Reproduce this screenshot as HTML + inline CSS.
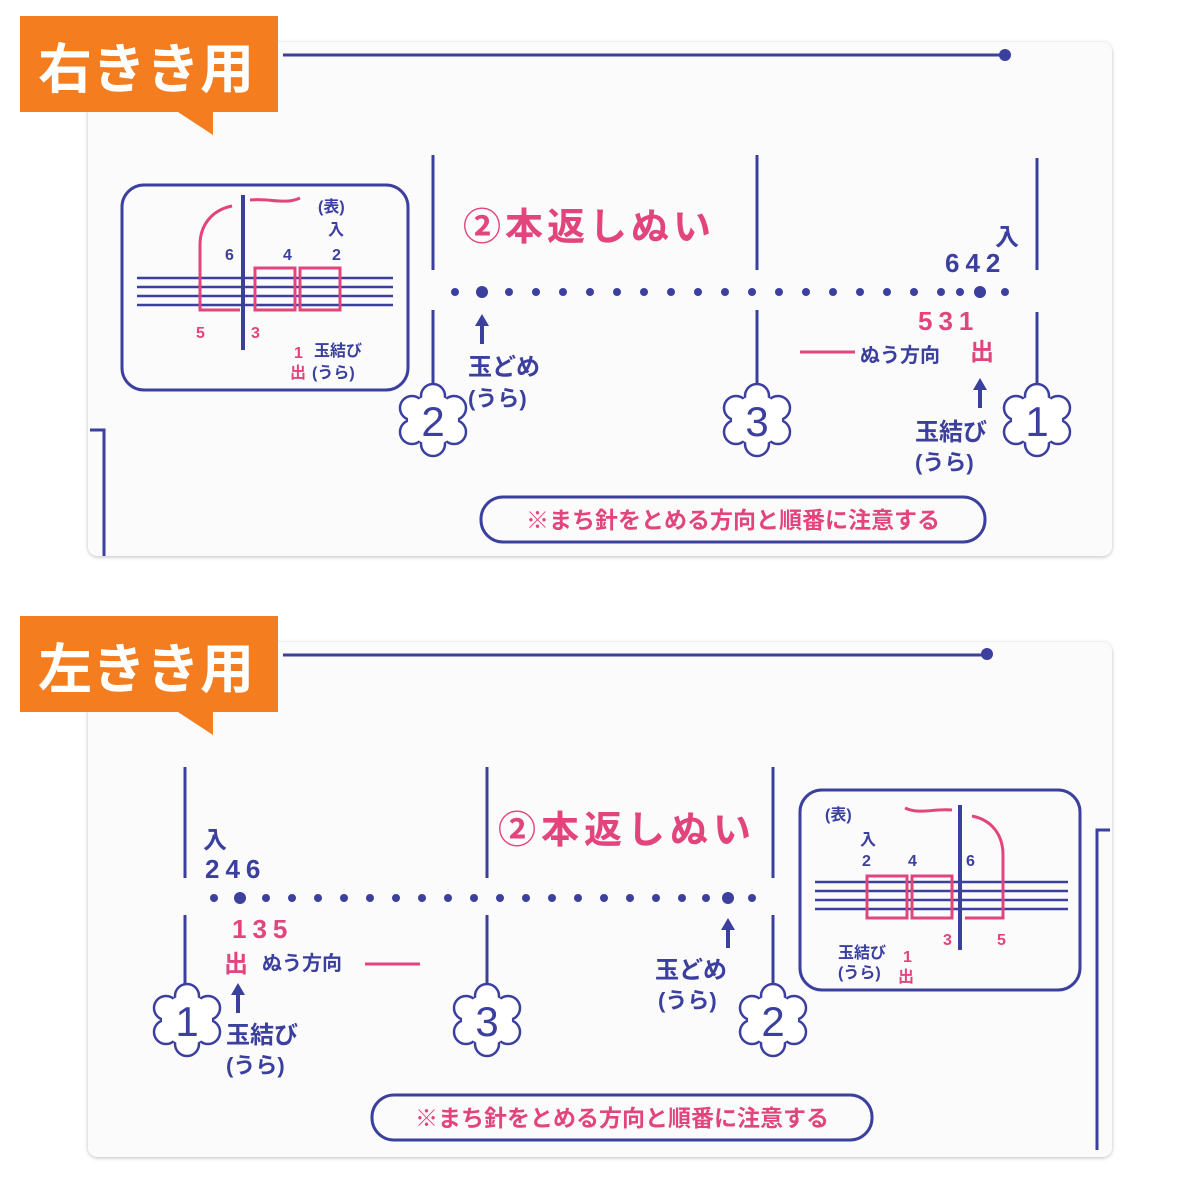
<!DOCTYPE html>
<html><head><meta charset="utf-8"><style>
html,body{margin:0;padding:0;background:#fff;}
svg{display:block;}
text{font-family:"Liberation Sans","Noto Sans CJK JP",sans-serif;font-weight:bold;}
.b{fill:#3b3f9e;}
.p{fill:#e2457c;}
</style></head><body>
<svg width="1200" height="1200" viewBox="0 0 1200 1200" xmlns="http://www.w3.org/2000/svg">
<defs>
<filter id="sh" x="-5%" y="-5%" width="110%" height="110%"><feDropShadow dx="0" dy="1" stdDeviation="2" flood-color="#000" flood-opacity="0.25"/></filter>
<g id="flower">
  <circle cx="0" cy="-24" r="12" fill="#fff" stroke="#3b3f9e" stroke-width="2.5"/>
  <circle cx="21" cy="-12" r="12" fill="#fff" stroke="#3b3f9e" stroke-width="2.5"/>
  <circle cx="21" cy="12" r="12" fill="#fff" stroke="#3b3f9e" stroke-width="2.5"/>
  <circle cx="0" cy="24" r="12" fill="#fff" stroke="#3b3f9e" stroke-width="2.5"/>
  <circle cx="-21" cy="12" r="12" fill="#fff" stroke="#3b3f9e" stroke-width="2.5"/>
  <circle cx="-21" cy="-12" r="12" fill="#fff" stroke="#3b3f9e" stroke-width="2.5"/>
  <circle cx="0" cy="0" r="25" fill="#fff"/>
</g>
<g id="upar"><path d="M0 0 L-7 12 L7 12 Z" fill="#3b3f9e"/><rect x="-2" y="10" width="4" height="20" fill="#3b3f9e"/></g>
</defs>

<!-- TOP CARD -->
<rect x="88" y="42" width="1024" height="514" rx="10" fill="#fbfbfc" filter="url(#sh)"/>
<line x1="283" y1="55" x2="1005" y2="55" stroke="#3b3f9e" stroke-width="3"/>
<circle cx="1005" cy="55" r="6" fill="#3b3f9e"/>
<g stroke="#3b3f9e" stroke-width="3" fill="none">
<path d="M433 155 V270 M433 310 V390"/>
<path d="M757 155 V270 M757 310 V395"/>
<path d="M1037 158 V270 M1037 312 V390"/>
</g>
<g class="b">
<circle cx="455" cy="292" r="4"/><circle cx="482" cy="292" r="6"/><circle cx="509" cy="292" r="4"/><circle cx="536" cy="292" r="4"/><circle cx="563" cy="292" r="4"/><circle cx="590" cy="292" r="4"/><circle cx="617" cy="292" r="4"/><circle cx="644" cy="292" r="4"/><circle cx="671" cy="292" r="4"/><circle cx="698" cy="292" r="4"/><circle cx="725" cy="292" r="4"/><circle cx="752" cy="292" r="4"/><circle cx="779" cy="292" r="4"/><circle cx="806" cy="292" r="4"/><circle cx="833" cy="292" r="4"/><circle cx="860" cy="292" r="4"/><circle cx="887" cy="292" r="4"/><circle cx="914" cy="292" r="4"/><circle cx="941" cy="292" r="4"/><circle cx="980" cy="292" r="6"/><circle cx="1005" cy="292" r="4"/><circle cx="960" cy="292" r="4"/>
</g>
<text x="463" y="240" font-size="38" class="p" letter-spacing="4">②本返しぬい</text>
<text x="995" y="245" font-size="24" class="b">入</text>
<text x="945" y="272" font-size="26" class="b" letter-spacing="6">642</text>
<text x="918" y="330" font-size="26" class="p" letter-spacing="6">531</text>
<text x="970" y="360" font-size="24" class="p">出</text>
<use href="#upar" x="482" y="314"/>
<text x="468" y="375" font-size="24" class="b">玉どめ</text>
<text x="468" y="406" font-size="22" class="b">(うら)</text>
<line x1="800" y1="352" x2="855" y2="352" stroke="#e2457c" stroke-width="3"/>
<text x="860" y="362" font-size="20" class="b">ぬう方向</text>
<use href="#upar" x="980" y="378"/>
<text x="915" y="440" font-size="24" class="b">玉結び</text>
<text x="915" y="470" font-size="22" class="b">(うら)</text>
<use href="#flower" x="433" y="420"/><text x="433" y="436" font-size="42" class="b" text-anchor="middle" style="font-weight:normal">2</text>
<use href="#flower" x="757" y="420"/><text x="757" y="436" font-size="42" class="b" text-anchor="middle" style="font-weight:normal">3</text>
<use href="#flower" x="1037" y="420"/><text x="1037" y="436" font-size="42" class="b" text-anchor="middle" style="font-weight:normal">1</text>
<rect x="481" y="497" width="504" height="45" rx="22" fill="none" stroke="#3b3f9e" stroke-width="3"/>
<text x="733" y="528" font-size="23" class="p" text-anchor="middle">※まち針をとめる方向と順番に注意する</text>
<!-- inset top -->
<rect x="122" y="185" width="286" height="205" rx="22" fill="none" stroke="#3b3f9e" stroke-width="3"/>
<g stroke="#3b3f9e" stroke-width="2.5" fill="none"><path d="M137 278 H393 M137 287 H393 M137 296 H393 M137 305 H393"/></g>
<path d="M300 198 C285 205 270 198 250 200 M232 206 C212 210 200 225 200 245 V310 H240" fill="none" stroke="#e2457c" stroke-width="3"/>
<rect x="255" y="268" width="40" height="42" fill="none" stroke="#e2457c" stroke-width="3"/>
<rect x="300" y="268" width="40" height="42" fill="none" stroke="#e2457c" stroke-width="3"/>
<line x1="243" y1="195" x2="243" y2="350" stroke="#3b3f9e" stroke-width="4"/>
<text x="318" y="212" font-size="16" class="b">(表)</text>
<text x="328" y="235" font-size="16" class="b">入</text>
<text x="225" y="260" font-size="16" class="b">6</text>
<text x="283" y="260" font-size="16" class="b">4</text>
<text x="332" y="260" font-size="16" class="b">2</text>
<text x="196" y="338" font-size="16" class="p">5</text>
<text x="251" y="338" font-size="16" class="p">3</text>
<text x="294" y="358" font-size="16" class="p">1</text>
<text x="290" y="378" font-size="16" class="p">出</text>
<text x="314" y="356" font-size="16" class="b">玉結び</text>
<text x="312" y="378" font-size="16" class="b">(うら)</text>
<path d="M90 430 H104 V556" fill="none" stroke="#3b3f9e" stroke-width="3"/>
<!-- label top -->
<path d="M20 16 H278 V112 H213 L213 135 L178 112 H20 Z" fill="#f47d20"/>
<text x="38" y="88" font-size="54" fill="#fff">右きき用</text>

<!-- BOTTOM CARD -->
<rect x="88" y="642" width="1024" height="515" rx="10" fill="#fbfbfc" filter="url(#sh)"/>
<line x1="283" y1="655" x2="987" y2="655" stroke="#3b3f9e" stroke-width="3"/>
<circle cx="987" cy="654" r="6" fill="#3b3f9e"/>
<g stroke="#3b3f9e" stroke-width="3" fill="none">
<path d="M185 767 V878 M185 915 V990"/>
<path d="M487 767 V878 M487 915 V990"/>
<path d="M773 767 V878 M773 915 V990"/>
</g>
<g class="b">
<circle cx="214" cy="898" r="4"/><circle cx="240" cy="898" r="6"/><circle cx="266" cy="898" r="4"/><circle cx="292" cy="898" r="4"/><circle cx="318" cy="898" r="4"/><circle cx="344" cy="898" r="4"/><circle cx="370" cy="898" r="4"/><circle cx="396" cy="898" r="4"/><circle cx="422" cy="898" r="4"/><circle cx="448" cy="898" r="4"/><circle cx="474" cy="898" r="4"/><circle cx="500" cy="898" r="4"/><circle cx="526" cy="898" r="4"/><circle cx="552" cy="898" r="4"/><circle cx="578" cy="898" r="4"/><circle cx="604" cy="898" r="4"/><circle cx="630" cy="898" r="4"/><circle cx="656" cy="898" r="4"/><circle cx="682" cy="898" r="4"/><circle cx="706" cy="898" r="4"/><circle cx="728" cy="898" r="6"/><circle cx="752" cy="898" r="4"/>
</g>
<text x="498" y="843" font-size="38" class="p" letter-spacing="5">②本返しぬい</text>
<text x="203" y="848" font-size="24" class="b">入</text>
<text x="205" y="878" font-size="26" class="b" letter-spacing="6">246</text>
<text x="232" y="938" font-size="26" class="p" letter-spacing="6">135</text>
<text x="224" y="972" font-size="24" class="p">出</text>
<text x="262" y="970" font-size="20" class="b">ぬう方向</text>
<line x1="365" y1="964" x2="420" y2="964" stroke="#e2457c" stroke-width="3"/>
<use href="#upar" x="238" y="983"/>
<text x="226" y="1043" font-size="24" class="b">玉結び</text>
<text x="226" y="1073" font-size="22" class="b">(うら)</text>
<use href="#upar" x="728" y="918"/>
<text x="655" y="978" font-size="24" class="b">玉どめ</text>
<text x="658" y="1008" font-size="22" class="b">(うら)</text>
<use href="#flower" x="187" y="1020"/><text x="187" y="1036" font-size="42" class="b" text-anchor="middle" style="font-weight:normal">1</text>
<use href="#flower" x="487" y="1020"/><text x="487" y="1036" font-size="42" class="b" text-anchor="middle" style="font-weight:normal">3</text>
<use href="#flower" x="773" y="1020"/><text x="773" y="1036" font-size="42" class="b" text-anchor="middle" style="font-weight:normal">2</text>
<rect x="372" y="1095" width="500" height="45" rx="22" fill="none" stroke="#3b3f9e" stroke-width="3"/>
<text x="622" y="1126" font-size="23" class="p" text-anchor="middle">※まち針をとめる方向と順番に注意する</text>
<!-- inset bottom -->
<rect x="800" y="790" width="280" height="200" rx="22" fill="none" stroke="#3b3f9e" stroke-width="3"/>
<g stroke="#3b3f9e" stroke-width="2.5" fill="none"><path d="M815 882 H1068 M815 891 H1068 M815 900 H1068 M815 909 H1068"/></g>
<path d="M905 808 C920 815 935 808 952 810 M972 816 C992 820 1003 835 1003 855 V918 H965" fill="none" stroke="#e2457c" stroke-width="3"/>
<rect x="867" y="876" width="40" height="42" fill="none" stroke="#e2457c" stroke-width="3"/>
<rect x="912" y="876" width="40" height="42" fill="none" stroke="#e2457c" stroke-width="3"/>
<line x1="960" y1="805" x2="960" y2="950" stroke="#3b3f9e" stroke-width="4"/>
<text x="825" y="820" font-size="16" class="b">(表)</text>
<text x="860" y="845" font-size="16" class="b">入</text>
<text x="862" y="866" font-size="16" class="b">2</text>
<text x="908" y="866" font-size="16" class="b">4</text>
<text x="966" y="866" font-size="16" class="b">6</text>
<text x="943" y="945" font-size="16" class="p">3</text>
<text x="997" y="945" font-size="16" class="p">5</text>
<text x="903" y="962" font-size="16" class="p">1</text>
<text x="898" y="982" font-size="16" class="p">出</text>
<text x="838" y="958" font-size="16" class="b">玉結び</text>
<text x="838" y="978" font-size="16" class="b">(うら)</text>
<path d="M1110 830 H1097 V1150" fill="none" stroke="#3b3f9e" stroke-width="3"/>
<!-- label bottom -->
<path d="M20 616 H278 V712 H213 L213 735 L178 712 H20 Z" fill="#f47d20"/>
<text x="38" y="688" font-size="54" fill="#fff">左きき用</text>
</svg>
</body></html>
